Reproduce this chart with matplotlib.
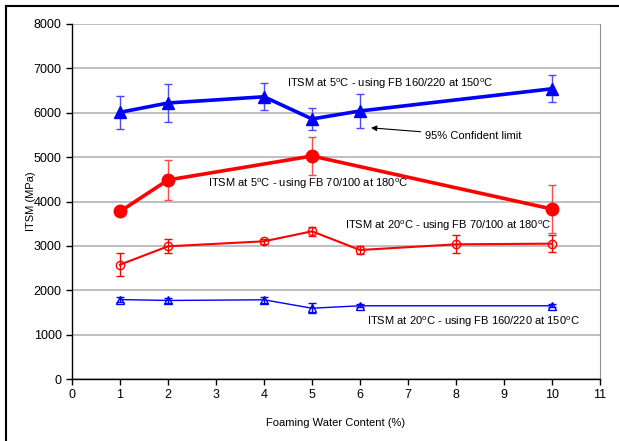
import matplotlib.pyplot as plt
from matplotlib.lines import Line2D

plt.rcParams['font.family'] = ['Liberation Sans', 'DejaVu Sans']
plt.rcParams['mathtext.fontset'] = 'custom'
plt.rcParams['mathtext.rm'] = 'Liberation Sans'
plt.rcParams['font.size'] = 8

# ITSM results vs foaming water content
x_b5 = [1, 2, 4, 5, 6, 10]
itsm_b5 = [6010, 6220, 6360, 5860, 6040, 6540]
err_b5 = [370, 420, 300, 250, 380, 300]

x_r5 = [1, 2, 5, 10]
itsm_r5 = [3775, 4485, 5025, 3830]
err_r5 = [0, 445, 435, 550]

x_r20 = [1, 2, 4, 5, 6, 8, 10]
itsm_r20 = [2577, 2990, 3103, 3328, 2907, 3035, 3050]
err_r20 = [255, 160, 55, 105, 85, 200, 190]

x_b20 = [1, 2, 4, 5, 6, 10]
itsm_b20 = [1790, 1770, 1785, 1595, 1650, 1650]
err_b20 = [50, 50, 70, 110, 35, 35]

blue = '#0000ff'
red = '#ff0000'

fig = plt.figure(figsize=(6.19, 4.41), dpi=100)
ax = fig.add_axes([72 / 619, 1 - 379 / 441, 528 / 619, 355 / 441])

ax.errorbar(x_b5, itsm_b5, yerr=err_b5, color=blue, lw=2.6, marker='^', ms=9,
            ecolor='#4a4aff', elinewidth=1.0, capsize=3, capthick=1.0, zorder=4)
ax.errorbar(x_r5, itsm_r5, yerr=err_r5, color=red, lw=2.6, marker='o', ms=9,
            ecolor='#ff4a4a', elinewidth=1.0, capsize=3, capthick=1.0, zorder=4)
ax.errorbar(x_r20, itsm_r20, yerr=err_r20, color=red, lw=1.5, marker='o', ms=6,
            mfc='none', mew=1.0, ecolor=red, elinewidth=1.0, capsize=3, capthick=1.0, zorder=3)
ax.errorbar(x_b20, itsm_b20, yerr=err_b20, color=blue, lw=1.0, marker='^', ms=5.5,
            mfc='none', mew=1.0, ecolor=blue, elinewidth=1.0, capsize=3, capthick=1.0, zorder=3)

ax.set_xlim(0, 11)
ax.set_ylim(0, 8000)
ax.set_xticks(range(0, 12))
ax.set_yticks(range(0, 8001, 1000))
ax.yaxis.grid(True, color='#b4b4b4', lw=1.2)
ax.set_axisbelow(True)
ax.spines['top'].set_visible(False)
ax.spines['right'].set_color('#909090')
ax.spines['left'].set_linewidth(1.0)
ax.spines['bottom'].set_linewidth(1.0)
ax.tick_params(direction='out', length=4, width=1.0, labelsize=9)

ax.set_xlabel('Foaming Water Content (%)', fontsize=8, labelpad=12)
ax.set_ylabel('ITSM (MPa)', fontsize=8, labelpad=-2)

ax.text(4.48, 6650, r'ITSM at 5$^{\rm o}$C - using FB 160/220 at 150$^{\rm o}$C',
        fontsize=8, va='center')
ax.text(2.83, 4400, r'ITSM at 5$^{\rm o}$C - using FB 70/100 at 180$^{\rm o}$C',
        fontsize=8, va='center')
ax.text(5.68, 3460, r'ITSM at 20$^{\rm o}$C - using FB 70/100 at 180$^{\rm o}$C',
        fontsize=8, va='center')
ax.text(6.15, 1300, r'ITSM at 20$^{\rm o}$C - using FB 160/220 at 150$^{\rm o}$C',
        fontsize=8, va='center')
ax.annotate('95% Confident limit', xy=(6.23, 5660), xytext=(7.35, 5480),
            fontsize=8, va='center',
            arrowprops=dict(arrowstyle='-|>', color='black', lw=0.8,
                            mutation_scale=8, shrinkA=1, shrinkB=0))

# frame lines along top and left edge of the figure
fig.add_artist(Line2D([6 / 619, 1], [1 - 6 / 441] * 2, color='black', lw=1.5,
                      transform=fig.transFigure))
fig.add_artist(Line2D([6 / 619] * 2, [0, 1 - 6 / 441], color='black', lw=1.5,
                      transform=fig.transFigure))

fig.savefig('out.png', dpi=100)
